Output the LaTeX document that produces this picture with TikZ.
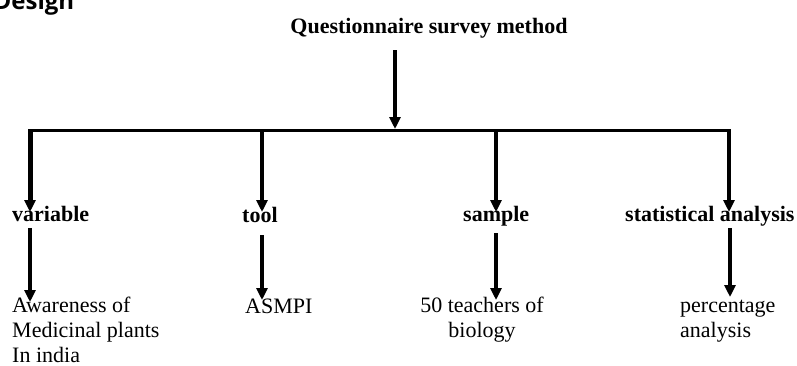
\documentclass[tikz,border=0pt]{standalone}
\usepackage{fontspec}
\setmainfont{Liberation Serif}
\newfontfamily\designfont{Open Sans}
\usetikzlibrary{arrows.meta}
\begin{document}
\begin{tikzpicture}[x=1pt,y=-1pt,
  lbl/.style={inner sep=0pt, font=\fontsize{22}{25}\selectfont\bfseries, anchor=base west},
  txt/.style={inner sep=0pt, font=\fontsize{22}{25}\selectfont, anchor=base west},
  ln/.style={line width=3.2pt, draw=black},
  arr/.style={ln, -{Triangle[length=12pt,width=11pt]}}]
\useasboundingbox (0,0) rectangle (797,365);
\clip (0,0) rectangle (797,365);
\node[inner sep=0pt, anchor=base west, font=\designfont\bfseries\fontsize{24}{28}\selectfont] (design) at (-6.5,9) {Design};
% title
\node[lbl, anchor=base] (title) at (429,33) {Questionnaire survey method};
\coordinate (ttop) at (395,50);
\coordinate (tbar) at (395,129);
\draw[arr] (ttop) -- (tbar);
% bar
\coordinate (bl) at (30,130.5);
\coordinate (bt) at (262,130.5);
\coordinate (bs) at (496,130.5);
\coordinate (br) at (729,130.5);
\draw[ln, line width=3.5pt, line cap=rect] (bl) -- (br);
% labels
\node[lbl] (var) at (12,221) {variable};
\node[lbl] (tool) at (242,222) {tool};
\node[lbl] (samp) at (463,221) {sample};
\node[lbl] (stat) at (625,221) {statistical analysis};
\coordinate (tv) at (30,212);
\coordinate (tt) at (262,212);
\coordinate (ts) at (496,212);
\coordinate (tr) at (729,212);
\draw[arr, line width=5pt] (bl) -- (tv);
\draw[arr] (bt) -- (tt);
\draw[arr] (bs) -- (ts);
\draw[arr] (br) -- (tr);
% bottom texts (base anchor = baseline of the last line)
\node[txt, align=left] (aw) at (12,362) {Awareness of\\Medicinal plants\\In india};
\node[txt] (asm) at (245,313) {ASMPI};
\node[txt, align=center, anchor=base] (teach) at (482,337) {50 teachers of\\biology};
\node[txt, align=left] (perc) at (680,337) {percentage\\analysis};
% second arrows
\coordinate (v1) at (30,228);  \coordinate (v2) at (30,302);
\coordinate (t1) at (262,235); \coordinate (t2) at (262,300);
\coordinate (s1) at (496,233); \coordinate (s2) at (496,300);
\coordinate (r1) at (730,228); \coordinate (r2) at (730,297);
\draw[arr] (v1) -- (v2);
\draw[arr] (t1) -- (t2);
\draw[arr] (s1) -- (s2);
\draw[arr] (r1) -- (r2);
\end{tikzpicture}
\end{document}
